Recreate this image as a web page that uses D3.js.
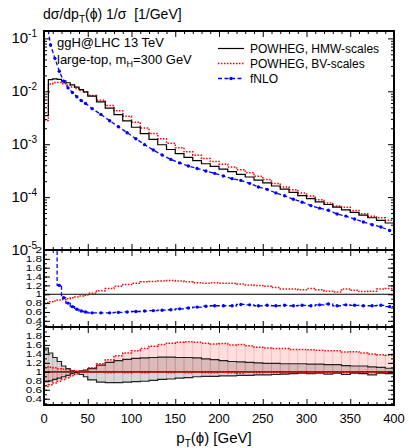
<!DOCTYPE html>
<html>
<head>
<meta charset="utf-8">
<script src="https://cdn.jsdelivr.net/npm/d3@7"></script>
<style>
  body { margin: 0; background: #fff; }
  svg { display: block; font-family: "Liberation Sans", Arial, sans-serif; }
</style>
</head>
<body>
<div id="chart"></div>
<script>
// bin edges in pT (GeV): 5 GeV up to 50, then 10 GeV
const binEdges = [0,5,10,15,20,25,30,35,40,45,50,60,70,80,90,100,110,120,130,140,150,
  160,170,180,190,200,210,220,230,240,250,260,270,280,290,300,310,320,330,340,350,
  360,370,380,390,400];

// main panel, 1/sigma dsigma/dpT [1/GeV]
const hmwCentral = [0.00347,0.0166,0.0172,0.0168,0.0158,0.0145,0.0132,0.0120,0.0108,0.00977,
  0.00813,0.00631,0.00479,0.00363,0.00275,0.00209,0.00158,0.00123,0.000977,0.000794,
  0.000661,0.000562,0.000490,0.000427,0.000380,0.000339,0.000302,0.000269,0.000240,0.000209,
  0.000186,0.000162,0.000141,0.000123,0.000107,0.0000933,0.0000813,0.0000724,0.0000646,0.0000575,
  0.0000513,0.0000457,0.0000407,0.0000363,0.0000324];
const bvCentral = [0.00281,0.0138,0.0146,0.0146,0.0139,0.0131,0.0121,0.0113,0.0104,0.00957,
  0.00829,0.00681,0.00541,0.00428,0.00336,0.00261,0.00202,0.00159,0.00127,0.00104,
  0.000859,0.000719,0.000617,0.000534,0.000471,0.000420,0.000371,0.000328,0.000290,0.000247,
  0.000214,0.000181,0.000155,0.000138,0.000119,0.000105,0.0000894,0.0000775,0.0000678,0.0000644,
  0.0000559,0.0000484,0.0000435,0.0000407,0.0000366];
const fnloCentral = [0.25,0.075,0.042,0.024,0.0155,0.0116,0.0095,0.0079,0.0067,0.0059,
  0.0047,0.00366,0.00278,0.00214,0.00165,0.00127,0.00098,0.000775,0.000625,0.000516,
  0.000443,0.000388,0.000348,0.000312,0.000281,0.000251,0.000223,0.000207,0.000182,0.000155,
  0.000140,0.000120,0.000106,0.0000910,0.0000803,0.0000690,0.0000618,0.0000565,0.0000478,0.0000437,
  0.0000385,0.0000338,0.0000301,0.0000272,0.0000233];

// middle panel: ratio to POWHEG HMW
const ratioBV = [0.81,0.83,0.85,0.87,0.88,0.90,0.92,0.94,0.96,0.98,
  1.02,1.08,1.13,1.18,1.22,1.25,1.28,1.29,1.30,1.31,
  1.30,1.28,1.26,1.25,1.26,1.25,1.25,1.23,1.21,1.20,
  1.18,1.15,1.12,1.12,1.10,1.13,1.10,1.07,1.05,1.12,
  1.09,1.06,1.07,1.12,1.13];
const ratioNLO = [3,3,2.3,1.2,0.92,0.80,0.72,0.66,0.62,0.60,
  0.58,0.58,0.58,0.59,0.60,0.61,0.62,0.63,0.64,0.65,
  0.67,0.69,0.71,0.73,0.74,0.74,0.74,0.77,0.76,0.74,
  0.75,0.74,0.75,0.74,0.75,0.74,0.76,0.78,0.74,0.76,
  0.75,0.74,0.74,0.75,0.72];

// bottom panel: scale variations / central
const hmwVarA = [1.53,1.42,1.32,1.23,1.13,1.07,1.02,0.99,0.94,0.89,
  0.82,0.77,0.76,0.76,0.77,0.78,0.79,0.81,0.83,0.84,
  0.86,0.87,0.89,0.90,0.90,0.91,0.91,0.92,0.92,0.93,
  0.93,0.94,0.95,0.96,0.97,0.96,0.97,0.95,0.97,0.94,
  0.97,0.96,0.93,0.97,0.96];
const hmwVarB = [0.78,0.80,0.83,0.86,0.89,0.92,0.96,1.00,1.02,1.04,
  1.07,1.15,1.21,1.25,1.28,1.30,1.31,1.32,1.33,1.33,
  1.32,1.32,1.31,1.29,1.27,1.25,1.23,1.22,1.21,1.20,
  1.19,1.19,1.18,1.18,1.18,1.17,1.17,1.16,1.16,1.14,
  1.13,1.13,1.11,1.10,1.08];
const bvVarA = [1.11,1.10,1.09,1.07,1.06,1.05,1.03,1.02,1.00,0.99,
  0.99,0.99,0.98,0.99,0.98,0.99,0.98,0.99,0.99,0.98,
  0.99,0.98,0.99,0.98,0.98,0.99,0.98,0.97,0.99,0.98,
  0.99,0.98,0.97,0.99,0.98,0.97,0.99,0.98,1.00,0.98,
  0.97,0.99,0.98,0.97,0.99];
const bvVarB = [0.67,0.71,0.75,0.79,0.83,0.87,0.91,0.95,0.99,1.03,
  1.09,1.18,1.27,1.36,1.42,1.47,1.52,1.57,1.61,1.64,
  1.66,1.67,1.66,1.64,1.62,1.63,1.60,1.61,1.58,1.55,
  1.53,1.52,1.52,1.50,1.50,1.49,1.48,1.47,1.47,1.44,
  1.45,1.42,1.40,1.38,1.37];

const xTickLabels = [0,50,100,150,200,250,300,350,400];
const mainTickLabels = [1e-1,1e-2,1e-3,1e-4,1e-5];
const ratioTickLabels = [2,1.8,1.6,1.4,1.2,1,0.8,0.6,0.4];
const legendLabels = ["POWHEG, HMW-scales", "POWHEG, BV-scales", "fNLO"];

const width = 409, height = 448;
const left = 44, right = 394;
const mainTop = 31, mainBot = 250, ratBot = 327, bandBot = 405;

const svg = d3.select("#chart").append("svg")
    .attr("width", width)
    .attr("height", height);

const x = d3.scaleLinear().domain([0, 400]).range([left, right]);
const yMain = d3.scaleLog().domain([1e-5, 0.138]).range([mainBot, mainTop]);
const yRat = d3.scaleLinear().domain([0.26, 2]).range([ratBot, mainBot]);
const yBand = d3.scaleLinear().domain([0.26, 2]).range([bandBot, ratBot]);

// clip paths
function clip(id, top, bot) {
  svg.append("clipPath").attr("id", id)
    .append("rect").attr("x", left).attr("y", top)
    .attr("width", right - left).attr("height", bot - top);
}
clip("cMain", mainTop, mainBot);
clip("cRat", mainBot, ratBot);
clip("cBand", ratBot, bandBot);

// step helpers
const steps = vals => vals.flatMap((v, i) => [[binEdges[i], v], [binEdges[i + 1], v]]);
const centers = vals => vals.map((v, i) => [(binEdges[i] + binEdges[i + 1]) / 2, v]);

// ---------- bottom band panel ----------
const gBand = svg.append("g").attr("clip-path", "url(#cBand)");

function band(a, b, fill, vline) {
  const pts = a.flatMap((v, i) => {
    const lo = Math.min(v, b[i]), hi = Math.max(v, b[i]);
    return [[binEdges[i], lo, hi], [binEdges[i + 1], lo, hi]];
  });
  gBand.append("path")
    .datum(pts)
    .attr("fill", fill)
    .attr("d", d3.area().x(d => x(d[0])).y0(d => yBand(d[1])).y1(d => yBand(d[2])));
  gBand.append("g").selectAll("line")
    .data(a.map((v, i) => [binEdges[i], Math.min(v, b[i]), Math.max(v, b[i])]))
    .join("line")
      .attr("x1", d => x(d[0])).attr("x2", d => x(d[0]))
      .attr("y1", d => yBand(d[1])).attr("y2", d => yBand(d[2]))
      .attr("stroke", vline).attr("stroke-width", 0.7);
}
band(hmwVarA, hmwVarB, "#d6d6d6", "#aaaaaa");
band(bvVarA, bvVarB, "rgba(255,0,0,0.13)", "rgba(240,120,120,0.45)");

const lineBand = d3.line().x(d => x(d[0])).y(d => yBand(d[1]));
[hmwVarA, hmwVarB].forEach(v => {
  gBand.append("path").datum(steps(v))
    .attr("fill", "none").attr("stroke", "#222").attr("stroke-width", 1.2)
    .attr("d", lineBand);
});
gBand.append("line")
  .attr("x1", left).attr("x2", right)
  .attr("y1", yBand(1)).attr("y2", yBand(1))
  .attr("stroke", "#000").attr("stroke-width", 1.2);
[bvVarA, bvVarB].forEach(v => {
  gBand.append("path").datum(steps(v))
    .attr("fill", "none").attr("stroke", "#ff0000").attr("stroke-width", 1.5)
    .attr("stroke-dasharray", "1.5,1.5")
    .attr("d", lineBand);
});
gBand.append("line")
  .attr("x1", left).attr("x2", right)
  .attr("y1", yBand(1)).attr("y2", yBand(1))
  .attr("stroke", "#ff0000").attr("stroke-width", 1.5)
  .attr("stroke-dasharray", "1.5,1.5");

// ---------- middle ratio panel ----------
const gRat = svg.append("g").attr("clip-path", "url(#cRat)");
const lineRat = d3.line().x(d => x(d[0])).y(d => yRat(d[1]));

gRat.append("line")
  .attr("x1", left).attr("x2", right)
  .attr("y1", yRat(1)).attr("y2", yRat(1))
  .attr("stroke", "#000").attr("stroke-width", 1);
gRat.append("path").datum(steps(ratioBV))
  .attr("fill", "none").attr("stroke", "#ff0000").attr("stroke-width", 1.5)
  .attr("stroke-dasharray", "1.5,1.5")
  .attr("d", lineRat);
gRat.append("path").datum(steps(ratioNLO))
  .attr("fill", "none").attr("stroke", "#0000ff").attr("stroke-width", 1.3)
  .attr("stroke-dasharray", "4,2.5")
  .attr("d", lineRat);
gRat.append("g").selectAll("circle")
  .data(centers(ratioNLO))
  .join("circle")
    .attr("cx", d => x(d[0])).attr("cy", d => yRat(d[1]))
    .attr("r", 1.7).attr("fill", "#0000ff");

// ---------- main panel ----------
const gMain = svg.append("g").attr("clip-path", "url(#cMain)");
const lineMain = d3.line().x(d => x(d[0])).y(d => yMain(d[1]));

gMain.append("path").datum(steps(bvCentral))
  .attr("fill", "none").attr("stroke", "#ff0000").attr("stroke-width", 1.5)
  .attr("stroke-dasharray", "1.5,1.5")
  .attr("d", lineMain);
gMain.append("path").datum(steps(hmwCentral))
  .attr("fill", "none").attr("stroke", "#000").attr("stroke-width", 1.2)
  .attr("d", lineMain);
gMain.append("path").datum(centers(fnloCentral))
  .attr("fill", "none").attr("stroke", "#0000ff").attr("stroke-width", 1.3)
  .attr("stroke-dasharray", "4,2.5")
  .attr("d", lineMain);
gMain.append("g").selectAll("circle")
  .data(centers(fnloCentral))
  .join("circle")
    .attr("cx", d => x(d[0])).attr("cy", d => yMain(d[1]))
    .attr("r", 1.7).attr("fill", "#0000ff");

// ---------- ticks and frames ----------
const xMinor = d3.range(0, 401, 10).filter(v => v % 50 !== 0);

function noDomain(g) { g.select(".domain").remove(); }

function xTicks(top, bot) {
  [[xTickLabels, 6], [xMinor, 3]].forEach(([vals, len]) => {
    svg.append("g").attr("transform", `translate(0,${bot})`)
      .call(d3.axisBottom(x).tickValues(vals).tickSizeInner(-len).tickSizeOuter(0).tickFormat(""))
      .call(noDomain);
    svg.append("g").attr("transform", `translate(0,${top})`)
      .call(d3.axisTop(x).tickValues(vals).tickSizeInner(-len).tickSizeOuter(0).tickFormat(""))
      .call(noDomain);
  });
}
xTicks(mainTop, mainBot);
xTicks(mainBot, ratBot);
xTicks(ratBot, bandBot);

function yTicks(scale, major, minor) {
  [[major, 6], [minor, 3]].forEach(([vals, len]) => {
    svg.append("g").attr("transform", `translate(${left},0)`)
      .call(d3.axisLeft(scale).tickValues(vals).tickSizeInner(-len).tickSizeOuter(0).tickFormat(""))
      .call(noDomain);
    svg.append("g").attr("transform", `translate(${right},0)`)
      .call(d3.axisRight(scale).tickValues(vals).tickSizeInner(-len).tickSizeOuter(0).tickFormat(""))
      .call(noDomain);
  });
}
const logMinor = [];
[1e-5, 1e-4, 1e-3, 1e-2, 1e-1].forEach(d => {
  for (let k = 2; k <= 9; k++) if (k * d < 0.138) logMinor.push(k * d);
});
yTicks(yMain, mainTickLabels, logMinor);
const ratMinor = d3.range(3, 20).map(v => v / 10);
yTicks(yRat, ratioTickLabels, ratMinor);
yTicks(yBand, ratioTickLabels, ratMinor);

// main y labels 10^-n
svg.append("g").selectAll("text")
  .data(mainTickLabels)
  .join("text")
    .attr("x", 37)
    .attr("y", d => yMain(d) + 5)
    .attr("text-anchor", "end")
    .attr("font-size", 15)
    .each(function(d) {
      const t = d3.select(this);
      t.append("tspan").text("10");
      t.append("tspan").attr("font-size", 10).attr("dy", -6)
        .text("-" + Math.round(-Math.log10(d)));
    });

// ratio y labels (tightly stacked, as in the original)
[yRat, yBand].forEach(s => {
  svg.append("g").selectAll("text")
    .data(ratioTickLabels)
    .join("text")
      .attr("transform", d => `translate(42,${s(d) + 3.2}) scale(1.3,1)`)
      .attr("text-anchor", "end")
      .attr("font-size", 9)
      .text(d => d);
});

// x labels
svg.append("g").selectAll("text")
  .data(xTickLabels)
  .join("text")
    .attr("x", d => x(d))
    .attr("y", 423)
    .attr("text-anchor", "middle")
    .attr("font-size", 13)
    .text(d => d);

// frames
[[mainTop, mainBot], [mainBot, ratBot], [ratBot, bandBot]].forEach(([t, b]) => {
  svg.append("rect")
    .attr("x", left).attr("y", t)
    .attr("width", right - left).attr("height", b - t)
    .attr("fill", "none").attr("stroke", "#000").attr("stroke-width", 2);
});

// titles
const title = svg.append("text").attr("x", 43).attr("y", 19).attr("font-size", 14)
  .attr("xml:space", "preserve");
title.append("tspan").text("dσ/dp");
title.append("tspan").attr("font-size", 10).attr("dy", 4).text("T");
title.append("tspan").attr("dy", -4).text("(ϕ) 1/σ\u00a0\u00a0[1/GeV]");

const xt = svg.append("text").attr("x", 214).attr("y", 443)
  .attr("text-anchor", "middle").attr("font-size", 15);
xt.append("tspan").text("p");
xt.append("tspan").attr("font-size", 10).attr("dy", 4).text("T");
xt.append("tspan").attr("dy", -4).text("(ϕ) [GeV]");

svg.append("text").attr("x", 57).attr("y", 46.5).attr("font-size", 13)
  .text("ggH@LHC 13 TeV");
const ann = svg.append("text").attr("x", 57).attr("y", 64).attr("font-size", 13);
ann.append("tspan").text("large-top, m");
ann.append("tspan").attr("font-size", 9).attr("dy", 3).text("H");
ann.append("tspan").attr("dy", -3).text("=300 GeV");

// legend
const legend = svg.append("g").attr("font-size", 12);
const legendStyles = [
  {stroke: "#000", dash: null, w: 1.2},
  {stroke: "#ff0000", dash: "1.5,1.5", w: 1.5},
  {stroke: "#0000ff", dash: "4,2.5", w: 1.3}
];
legendLabels.forEach((lab, i) => {
  const yy = 48.5 + i * 15;
  legend.append("line")
    .attr("x1", 218).attr("x2", 244).attr("y1", yy).attr("y2", yy)
    .attr("stroke", legendStyles[i].stroke)
    .attr("stroke-width", legendStyles[i].w)
    .attr("stroke-dasharray", legendStyles[i].dash);
  if (i === 2) legend.append("circle").attr("cx", 231).attr("cy", yy).attr("r", 1.7).attr("fill", "#0000ff");
  legend.append("text").attr("x", 250).attr("y", yy + 4).text(lab);
});
</script>
</body>
</html>
